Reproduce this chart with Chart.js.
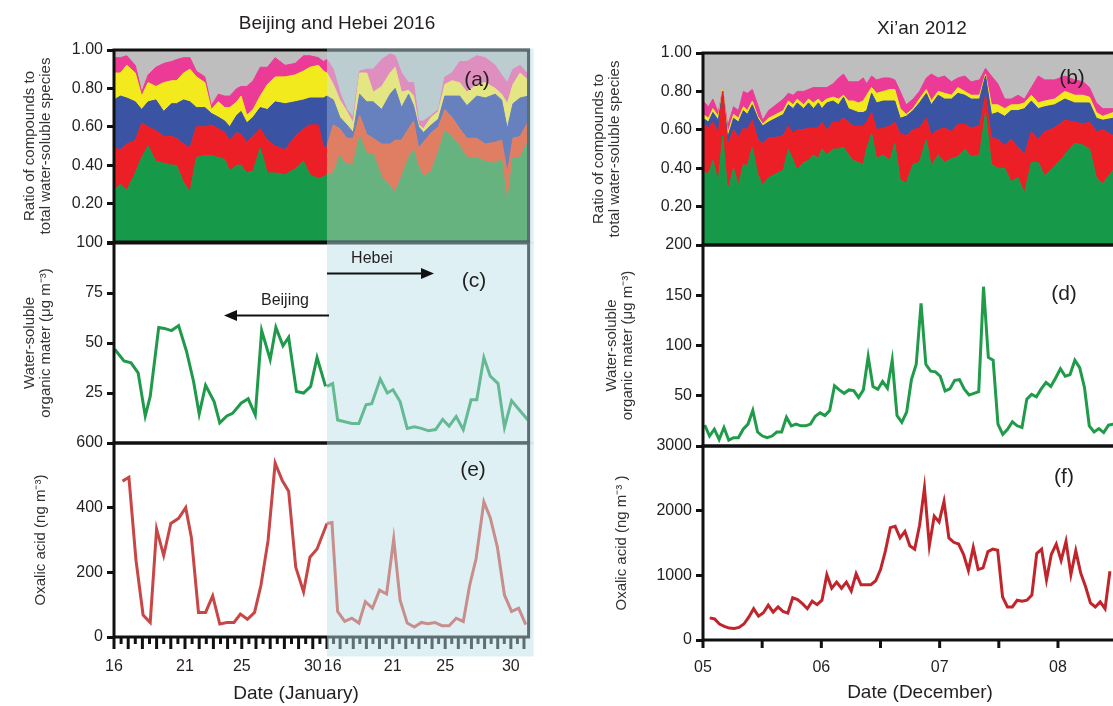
<!DOCTYPE html>
<html>
<head>
<meta charset="utf-8">
<script src="https://cdn.jsdelivr.net/npm/chart.js@4.4.0/dist/chart.umd.min.js"></script>
<style>
  html, body { margin: 0; padding: 0; background: #fff; overflow: hidden; }
  #wrap { position: relative; width: 1113px; height: 706px; overflow: hidden; }
  #wrap canvas { position: absolute; }
</style>
</head>
<body>
<div id="wrap">
  <canvas id="pa" width="560" height="270" style="left:0;top:0"></canvas>
  <canvas id="pc" width="560" height="235" style="left:0;top:225px"></canvas>
  <canvas id="pe" width="560" height="281" style="left:0;top:425px"></canvas>
  <canvas id="pb" width="640" height="270" style="left:580px;top:0"></canvas>
  <canvas id="pd" width="640" height="235" style="left:580px;top:228px"></canvas>
  <canvas id="pf" width="640" height="278" style="left:580px;top:428px"></canvas>
</div>
<script>
// ---------- data ----------
// Beijing / Hebei: x is the sample slot (two per day), Beijing 0-30, Hebei 30-58.4
const janLabels = ['16', '21', '25', '30'];
const xianLabels = ['05', '06', '07', '08', '09'];

// (a) fraction of water-soluble species, Beijing (first 32) then Hebei
const aX = [0, 0.9, 1.8, 3, 3.9, 4.8, 5.9, 7, 8.1, 8.8, 9.8, 10.7, 11.6, 12.8, 13.7, 14.7, 15.6, 16.3, 17.3, 17.9, 18.7, 19.6, 20.6, 21.6, 22.7, 24.1, 25.5, 26.7, 27.6, 28.8, 29.5, 30,
  30.9, 31.8, 32.8, 33.7, 34.6, 35.6, 36.5, 37.7, 38.9, 39.6, 40.5, 41.5, 42.2, 42.9, 43.6, 44.7, 45.7, 46.6, 47.6, 48.7, 49.7, 51.1, 52.3, 53.7, 54.6, 55.4, 56.2, 57.2, 58.4];
const aGreen = [0.27, 0.30, 0.27, 0.36, 0.44, 0.50, 0.42, 0.41, 0.40, 0.40, 0.31, 0.26, 0.44, 0.45, 0.45, 0.44, 0.43, 0.37, 0.40, 0.40, 0.36, 0.37, 0.49, 0.36, 0.36, 0.35, 0.38, 0.42, 0.35, 0.33, 0.34, 0.35,
  0.36, 0.45, 0.40, 0.41, 0.55, 0.46, 0.46, 0.34, 0.29, 0.26, 0.34, 0.44, 0.48, 0.39, 0.34, 0.37, 0.47, 0.58, 0.55, 0.50, 0.44, 0.44, 0.42, 0.41, 0.43, 0.20, 0.44, 0.44, 0.53];
const aRed = [0.22, 0.18, 0.24, 0.17, 0.18, 0.10, 0.16, 0.14, 0.15, 0.14, 0.20, 0.23, 0.16, 0.15, 0.16, 0.15, 0.14, 0.16, 0.17, 0.16, 0.16, 0.18, 0.10, 0.17, 0.14, 0.13, 0.17, 0.17, 0.26, 0.28, 0.15, 0.15,
  0.25, 0.14, 0.14, 0.13, 0.11, 0.10, 0.08, 0.17, 0.22, 0.27, 0.19, 0.15, 0.15, 0.10, 0.18, 0.20, 0.13, 0.11, 0.10, 0.09, 0.10, 0.10, 0.09, 0.11, 0.10, 0.16, 0.10, 0.11, 0.10];
const aBlue = [0.25, 0.28, 0.24, 0.20, 0.07, 0.13, 0.16, 0.13, 0.17, 0.18, 0.23, 0.24, 0.10, 0.10, 0.06, 0.06, 0.06, 0.07, 0.09, 0.12, 0.10, 0.10, 0.11, 0.16, 0.23, 0.24, 0.18, 0.15, 0.14, 0.14, 0.26, 0.26,
  0.13, 0.06, 0.07, 0.03, 0.11, 0.17, 0.19, 0.18, 0.26, 0.27, 0.17, 0.18, 0.08, 0.11, 0.05, 0.04, 0.04, 0.07, 0.11, 0.17, 0.17, 0.22, 0.24, 0.25, 0.21, 0.23, 0.18, 0.20, 0.13];
const aYellow = [0.14, 0.12, 0.17, 0.15, 0.07, 0.10, 0.07, 0.15, 0.12, 0.12, 0.14, 0.17, 0.16, 0.13, 0.02, 0.08, 0.07, 0.10, 0.07, 0.08, 0.04, 0.04, 0.06, 0.13, 0.13, 0.14, 0.14, 0.15, 0.16, 0.17, 0.14, 0.12,
  0.08, 0.09, 0.07, 0.05, 0.11, 0.15, 0.05, 0.12, 0.11, 0.11, 0.08, 0.02, 0.05, 0.01, 0.02, 0.04, 0.04, 0.06, 0.08, 0.07, 0.07, 0.06, 0.08, 0.03, 0.03, 0.13, 0.10, 0.13, 0.08];
const aPink = [0.08, 0.08, 0.05, 0.04, 0.02, 0.04, 0.10, 0.10, 0.10, 0.11, 0.08, 0.06, 0.03, 0.03, 0.02, 0.04, 0.06, 0.06, 0.07, 0.05, 0.15, 0.15, 0.15, 0.09, 0.10, 0.06, 0.06, 0.08, 0.06, 0.04, 0.05, 0.07,
  0.08, 0.04, 0.01, 0.03, 0.01, 0.02, 0.12, 0.14, 0.10, 0.06, 0.10, 0.04, 0.07, 0.02, 0.04, 0.01, 0.01, 0.04, 0.04, 0.11, 0.16, 0.15, 0.13, 0.12, 0.10, 0.11, 0.08, 0.04, 0.03];
const aBeijingCount = 32;

// (c) WSOM, ug m-3
const cBjX = [0.1, 1.4, 2.4, 3.4, 4.4, 5.1, 6.3, 7.1, 8.1, 9.1, 10.2, 11.2, 12, 12.9, 14.1, 14.9, 15.9, 16.7, 17.9, 18.9, 19.9, 20.8, 22, 22.8, 23.8, 24.6, 25.7, 26.7, 27.7, 28.6, 29.8];
const cBjWsom = [46.9, 41, 40.1, 35.1, 13.5, 23.3, 57.8, 57.3, 56.2, 58.7, 46, 30.9, 14.5, 28.8, 20.7, 10.1, 13.5, 14.8, 19.9, 22.1, 14, 56.2, 41.8, 57.8, 48.6, 52.8, 25.8, 25, 28.3, 42.7, 28.3];
const cHbX = [30, 30.8, 31.5, 32.5, 33.5, 34.5, 35.5, 36.3, 37.5, 38.5, 39.3, 40.3, 41.3, 42.3, 43.3, 44.3, 45.3, 46.3, 47.2, 48.2, 49.2, 50.3, 51.1, 52.1, 53, 54.1, 55, 56, 57.1, 58.3];
const cHbWsom = [28.3, 29.7, 11.5, 10.6, 9.8, 9.8, 19.1, 19.6, 32, 25, 26.6, 20.7, 7.3, 8.1, 7.3, 6.1, 6.7, 11.8, 8.4, 13.2, 6.7, 21.6, 21.6, 42.7, 33.4, 29.7, 7.8, 21.2, 16.5, 11.5];

// (e) oxalic acid, ng m-3
const eBjX = [1.2, 2.1, 3.1, 4.1, 5.1, 6, 7, 8, 9.1, 10.1, 10.9, 11.9, 12.9, 13.9, 14.9, 15.9, 16.9, 17.8, 18.8, 19.8, 20.7, 21.7, 22.7, 23.7, 24.6, 25.6, 26.7, 27.6, 28.6, 29.5, 30];
const eBjOxalic = [482, 494, 237, 68, 45, 334, 252, 351, 367, 400, 308, 76, 76, 127, 40, 45, 45, 71, 55, 76, 160, 298, 538, 484, 451, 216, 140, 247, 272, 323, 351];
const eHbX = [30, 30.7, 31.5, 32.5, 33.5, 34.5, 35.4, 36.4, 37.4, 38.4, 39.4, 40.3, 41.3, 42.3, 43.3, 44.2, 45.2, 46.2, 47.2, 48.2, 49.2, 50.1, 51, 52.1, 53, 54, 55, 56, 57, 58];
const eHbOxalic = [351, 354, 79, 48, 58, 43, 109, 89, 145, 133, 303, 114, 43, 31, 45, 41, 45, 35, 35, 58, 48, 160, 242, 418, 369, 278, 130, 79, 89, 38];

// Xi'an: x in hours since 5 Dec 00:00
const bX = [0, 1.1, 2, 3.1, 4, 5, 6.2, 7.2, 8.2, 9, 10, 11.1, 12.1, 13.3, 14.8, 16.3, 17.3, 18.3, 19.1, 20.4, 21.4, 22.4, 23.4, 24.1, 25.1, 26.4, 27.5, 28.5, 29.5, 30.5,
  31.5, 32.5, 33.2, 34.2, 35.2, 36.6, 37.9, 38.9, 40, 41.2, 42.6, 43.9, 45.3, 46.3, 47.7, 49, 50.4, 51.7, 53.1, 54.4, 56.1, 57.3, 58.5, 59.8, 61.2, 62.5, 63.9, 65.2, 66.6, 68,
  69.3, 71.3, 73.4, 75.4, 77.1, 78.4, 79.8, 81.1, 83.2];
const bGreen = [0.38, 0.37, 0.44, 0.33, 0.57, 0.28, 0.40, 0.31, 0.42, 0.41, 0.51, 0.37, 0.31, 0.35, 0.37, 0.39, 0.50, 0.44, 0.39, 0.43, 0.44, 0.47, 0.45, 0.50, 0.47, 0.50, 0.50, 0.51, 0.47, 0.44,
  0.43, 0.42, 0.50, 0.58, 0.45, 0.47, 0.44, 0.53, 0.34, 0.32, 0.42, 0.43, 0.55, 0.41, 0.47, 0.43, 0.45, 0.46, 0.50, 0.46, 0.47, 0.69, 0.42, 0.40, 0.40, 0.33, 0.35, 0.27, 0.43, 0.43,
  0.36, 0.41, 0.47, 0.53, 0.52, 0.50, 0.35, 0.32, 0.39];
const bRed = [0.25, 0.24, 0.20, 0.25, 0.23, 0.24, 0.20, 0.25, 0.19, 0.19, 0.14, 0.18, 0.22, 0.21, 0.19, 0.18, 0.12, 0.14, 0.21, 0.17, 0.17, 0.14, 0.16, 0.14, 0.13, 0.14, 0.14, 0.15, 0.17, 0.18,
  0.19, 0.20, 0.14, 0.11, 0.15, 0.14, 0.18, 0.11, 0.24, 0.25, 0.18, 0.18, 0.11, 0.16, 0.13, 0.18, 0.14, 0.17, 0.13, 0.15, 0.15, 0.09, 0.14, 0.15, 0.12, 0.22, 0.16, 0.20, 0.16, 0.12,
  0.23, 0.20, 0.18, 0.11, 0.11, 0.14, 0.24, 0.28, 0.18];
const bBlue = [0.03, 0.03, 0.05, 0.07, 0, 0.04, 0.06, 0.08, 0.09, 0.08, 0.08, 0.11, 0.09, 0.08, 0.10, 0.11, 0.11, 0.13, 0.14, 0.11, 0.13, 0.10, 0.13, 0.07, 0.14, 0.11, 0.09, 0.11, 0.07, 0.08,
  0.07, 0.07, 0.06, 0.10, 0.14, 0.14, 0.13, 0.11, 0.08, 0.10, 0.10, 0.13, 0.13, 0.16, 0.18, 0.15, 0.17, 0.16, 0.15, 0.15, 0.14, 0.10, 0.12, 0.14, 0.15, 0.15, 0.19, 0.24, 0.16, 0.16,
  0.13, 0.12, 0.11, 0.10, 0.11, 0.10, 0.07, 0.05, 0.09];
const bYellow = [0.02, 0.02, 0.02, 0.02, 0.01, 0.02, 0.02, 0.02, 0.02, 0.02, 0.02, 0.01, 0.01, 0.02, 0.02, 0.02, 0.02, 0.02, 0.02, 0.02, 0.02, 0.03, 0.02, 0.03, 0.02, 0.02, 0.03, 0.01, 0.04, 0.05,
  0.05, 0.06, 0.08, 0.03, 0.05, 0.05, 0.06, 0.06, 0.05, 0.01, 0.01, 0.02, 0.02, 0.02, 0.02, 0.03, 0.02, 0.03, 0.02, 0.02, 0.02, 0.01, 0.05, 0.04, 0.04, 0.03, 0.03, 0.03, 0.03, 0.03,
  0.03, 0.03, 0.04, 0.04, 0.04, 0.03, 0.03, 0.02, 0.03];
const bPink = [0.07, 0.06, 0.05, 0.02, 0, 0.04, 0.04, 0.04, 0.08, 0.09, 0.06, 0.06, 0.02, 0.04, 0.05, 0.06, 0.04, 0.05, 0.04, 0.07, 0.05, 0.08, 0.06, 0.08, 0.06, 0.07, 0.11, 0.11, 0.10, 0.10,
  0.11, 0.12, 0.06, 0.06, 0.07, 0.07, 0.06, 0.05, 0.09, 0.05, 0.05, 0.04, 0.06, 0.14, 0.07, 0.09, 0.07, 0.05, 0.08, 0.07, 0.08, 0.03, 0.15, 0.11, 0.05, 0.03, 0.05, 0.02, 0.04, 0.14,
  0.11, 0.10, 0.08, 0.08, 0.07, 0.05, 0.05, 0.04, 0.02];

// (d) WSOM, hourly samples
const dStartHour = 0.35, dStepHour = 0.975;
const dWsom = [20.7, 9.9, 16.7, 6.5, 18.4, 5.8, 8.2, 8.2, 16.7, 21.8, 35.4, 13.9, 9.9, 8.2, 9.9, 13.9, 13.9, 28.6, 20.1, 21.8,
  20.1, 20.1, 21.8, 29.6, 33, 30.3, 35.4, 59.9, 55.8, 52.4, 55.8, 55.1, 48.3, 55.8, 88.8, 59.2, 56.5, 64.3, 57.5, 85.4,
  30.3, 23.5, 33.7, 66, 81.3, 141.8, 81.3, 74.5, 73.8, 69.4, 54.8, 56.8, 65.3, 66, 56.5, 50.7, 52.4, 54.1, 158.5, 88.1,
  85.4, 21.8, 11.6, 16.7, 24.1, 20.1, 18.4, 46.6, 51.4, 49, 56.8, 63.3, 59.2, 67.7, 76.9, 69.4, 71.1, 85.4, 77.9, 58.2,
  20.1, 13.9, 17.3, 13.3, 20.7, 21.8];

// (f) oxalic acid, hourly samples
const fStartHour = 1.36, fStepHour = 0.99;
const fOxalic = [342, 326, 247, 211, 184, 179, 195, 247, 353, 484, 368, 421, 537, 432, 511, 442, 416, 653, 626, 563,
  484, 600, 547, 616, 1011, 800, 895, 800, 895, 758, 1026, 853, 853, 853, 916, 1089, 1379, 1737, 1758, 1579,
  1679, 1458, 1405, 1774, 2353, 1458, 1916, 1826, 2142, 1579, 1511, 1484, 1326, 1074, 1432, 1089, 1116, 1368, 1405, 1389,
  668, 511, 511, 616, 600, 616, 695, 1337, 1405, 932, 1326, 1484, 1232, 1526, 1011, 1379, 1037, 826, 574, 511,
  589, 484, 1063];

// ---------- style ----------
const INK = '#231f20';
const FONT = '"Liberation Sans", Arial, Helvetica, sans-serif';
const SHADE = 'rgba(185,222,233,0.46)';
const COLORS = { green: '#17994a', red: '#ec1f26', blue: '#3b53a3', yellow: '#f2ea1c', pink: '#ec3b97', gray: '#bebebe' };
const HEBEI = { green: '#66b380', red: '#e07e63', blue: '#6781be', yellow: '#e4e583', pink: '#de8fbf' };
Chart.defaults.font.family = FONT;
Chart.defaults.color = INK;

// Beijing half-day slot = 1, Hebei day spacing on the shared axis
const HB_DAY = 1.85;
const janTicks = [
  { v: 0, text: janLabels[0] }, { v: 10, text: janLabels[1] }, { v: 18, text: janLabels[2] }, { v: 28, text: janLabels[3] },
  { v: 30.8, text: janLabels[0] }, { v: 30 + 5 * HB_DAY, text: janLabels[1] }, { v: 30 + 9 * HB_DAY, text: janLabels[2] }, { v: 30 + 14 * HB_DAY, text: janLabels[3] }
];
const janMarks = [];
for (let h = 0; h <= 30; h++) janMarks.push({ v: h, len: h % 2 === 0 ? 12 : 7 });
for (let k = 1; 30 + k * HB_DAY / 2 <= 58.4; k++) janMarks.push({ v: 30 + k * HB_DAY / 2, len: k % 2 === 0 ? 12 : 7 });
const xianMarks = [];
for (let h = 0; h <= 96; h += 12) xianMarks.push({ v: h, len: 8 });

const framePlugin = {
  id: 'frame',
  beforeDatasetsDraw(chart, args, o) {
    if (!o.bg) return;
    const { ctx, chartArea: a } = chart;
    ctx.save();
    ctx.fillStyle = o.bg;
    ctx.fillRect(a.left, a.top, a.right - a.left, a.bottom - a.top);
    if (o.shadeUnder) {
      const x0 = chart.scales.x.getPixelForValue(o.shadeFrom);
      ctx.fillStyle = SHADE;
      ctx.fillRect(x0, a.top, a.right - x0, a.bottom - a.top);
    }
    ctx.restore();
  },
  afterDraw(chart, args, o) {
    const { ctx, chartArea: a } = chart;
    const xs = chart.scales.x;
    ctx.save();
    ctx.strokeStyle = '#111';
    ctx.lineWidth = 3;
    (o.marks || []).forEach(m => {
      const px = xs.getPixelForValue(m.v);
      ctx.beginPath();
      ctx.moveTo(px, a.bottom);
      ctx.lineTo(px, a.bottom + m.len);
      ctx.stroke();
    });
    ctx.strokeRect(a.left, a.top, a.right - a.left, a.bottom - a.top);
    if (o.shadeFrom != null) {
      const x0 = xs.getPixelForValue(o.shadeFrom);
      const w = a.right + 5 - x0;
      ctx.fillStyle = SHADE;
      if (o.shadeUnder) {
        ctx.fillRect(x0, a.top - 1.5, w, 3);
        ctx.fillRect(x0, a.bottom - 1.5, w, 3);
        ctx.fillRect(a.right - 1.5, a.top + 1.5, 6.5, a.bottom - a.top - 3);
      } else {
        ctx.fillRect(x0, a.top - 1.5, w, a.bottom - a.top + 3 + (o.shadeBelow || 0));
      }
    }
    ctx.fillStyle = INK;
    ctx.textAlign = 'center';
    ctx.textBaseline = 'middle';
    (o.texts || []).forEach(t => {
      ctx.font = t.size + 'px ' + FONT;
      ctx.fillText(t.text, t.x, t.y);
    });
    (o.arrows || []).forEach(ar => {
      const dir = Math.sign(ar.x1 - ar.x0);
      ctx.strokeStyle = '#111';
      ctx.fillStyle = '#111';
      ctx.lineWidth = 2;
      ctx.beginPath();
      ctx.moveTo(ar.x0, ar.y);
      ctx.lineTo(ar.x1 - dir * 8, ar.y);
      ctx.stroke();
      ctx.beginPath();
      ctx.moveTo(ar.x1, ar.y);
      ctx.lineTo(ar.x1 - dir * 13, ar.y - 5.5);
      ctx.lineTo(ar.x1 - dir * 13, ar.y + 5.5);
      ctx.closePath();
      ctx.fill();
    });
    ctx.restore();
  }
};

function pts(xs, ys) {
  return xs.map((x, i) => ({ x: x, y: ys[i] }));
}

function stackSets(xs, layers, stack) {
  return layers.map((l, k) => ({
    data: pts(xs, l[0]),
    stack: stack,
    backgroundColor: l[1],
    borderColor: l[1],
    borderWidth: 1,
    pointRadius: 0,
    tension: 0,
    fill: k === 0 ? 'origin' : '-1'
  }));
}

function lineSet(xs, ys, color) {
  return { data: pts(xs, ys), borderColor: color, borderWidth: 3, pointRadius: 0, tension: 0, fill: false };
}

function yAxis(opt) {
  return {
    min: opt.min, max: opt.max, stacked: !!opt.stacked,
    afterFit: s => { s.width = opt.width; },
    ticks: {
      stepSize: opt.step, padding: 4, font: { size: 16 }, color: INK,
      callback: v => (opt.hideMin && v === opt.min) ? '' : opt.fmt(v)
    },
    grid: { drawOnChartArea: false, tickLength: 7, tickWidth: 3, tickColor: '#111' },
    border: { display: false },
    title: { display: true, text: opt.title, color: '#333', font: { size: 15, lineHeight: 1.1 }, padding: { top: opt.titlePad, bottom: 0 } }
  };
}

function panel(id, cfg) {
  return new Chart(document.getElementById(id), {
    type: 'line',
    data: { datasets: cfg.datasets },
    options: {
      responsive: false,
      animation: false,
      events: [],
      layout: { padding: cfg.padding },
      plugins: { legend: { display: false }, tooltip: { enabled: false }, frame: cfg.frame },
      scales: { x: cfg.x, y: cfg.y }
    },
    plugins: [framePlugin]
  });
}

const ratioTitle = ['Ratio of compounds to', 'total water-soluble species'];
const wsomTitle = ['Water-soluble', 'organic mater (\u03bcg m\u207b\u00b3)'];
const fix2 = v => v.toFixed(2);
const int = v => String(Math.round(v));

const janHidden = { type: 'linear', min: 0, max: 58.4, display: false };
const janAxis = {
  type: 'linear', min: 0, max: 58.4,
  afterBuildTicks: s => { s.ticks = janTicks.map(t => ({ value: t.v })); },
  afterFit: s => { s.height = 69; },
  grid: { display: false, drawTicks: false },
  border: { display: false },
  ticks: { autoSkip: false, maxRotation: 0, padding: 20, font: { size: 16 }, color: INK, callback: (v, i) => janTicks[i].text }
};
const xianHidden = { type: 'linear', min: 0, max: 96, display: false };
const xianAxis = {
  type: 'linear', min: 0, max: 96,
  afterFit: s => { s.height = 66; },
  grid: { display: false, drawTicks: false },
  border: { display: false },
  ticks: { stepSize: 24, autoSkip: false, maxRotation: 0, padding: 18, font: { size: 16 }, color: INK, callback: v => xianLabels[Math.round(v / 24)] }
};

// ---------- Beijing and Hebei ----------
const bjEnd = aBeijingCount, hbStart = aBeijingCount - 1;
const cut = (arr, from, to) => arr.slice(from, to);
panel('pa', {
  datasets: stackSets(cut(aX, 0, bjEnd), [
    [cut(aGreen, 0, bjEnd), COLORS.green], [cut(aRed, 0, bjEnd), COLORS.red], [cut(aBlue, 0, bjEnd), COLORS.blue],
    [cut(aYellow, 0, bjEnd), COLORS.yellow], [cut(aPink, 0, bjEnd), COLORS.pink]
  ], 'beijing').concat(stackSets(cut(aX, hbStart), [
    [cut(aGreen, hbStart), HEBEI.green], [cut(aRed, hbStart), HEBEI.red], [cut(aBlue, hbStart), HEBEI.blue],
    [cut(aYellow, hbStart), HEBEI.yellow], [cut(aPink, hbStart), HEBEI.pink]
  ], 'hebei')),
  padding: { top: 50, bottom: 28, left: 0, right: 31.4 },
  x: janHidden,
  y: yAxis({ min: 0, max: 1, step: 0.2, fmt: fix2, hideMin: true, stacked: true, width: 114, title: ratioTitle, titlePad: 21.5 }),
  frame: { bg: COLORS.gray, shadeFrom: 30, shadeUnder: true, texts: [
    { text: 'Beijing and Hebei 2016', x: 337, y: 24, size: 19 },
    { text: '(a)', x: 477, y: 80, size: 21 }
  ] }
});

panel('pc', {
  datasets: [lineSet(cBjX, cBjWsom, '#1f9a4a'), lineSet(cHbX, cHbWsom, '#1f9a4a')],
  padding: { top: 18, bottom: 17, left: 0, right: 31.4 },
  x: janHidden,
  y: yAxis({ min: 0, max: 100, step: 25, fmt: int, hideMin: true, width: 114, title: wsomTitle, titlePad: 21.5 }),
  frame: { shadeFrom: 30, texts: [
    { text: '(c)', x: 474, y: 56, size: 21 },
    { text: 'Hebei', x: 372, y: 34, size: 16 },
    { text: 'Beijing', x: 285, y: 76, size: 16 }
  ], arrows: [{ x0: 327, x1: 434, y: 48.5 }, { x0: 329, x1: 224, y: 90.5 }] }
});

panel('pe', {
  datasets: [lineSet(eBjX, eBjOxalic, '#c94646'), lineSet(eHbX, eHbOxalic, '#d24a3c')],
  padding: { top: 18, bottom: 0, left: 0, right: 31.4 },
  x: janAxis,
  y: yAxis({ min: 0, max: 600, step: 200, fmt: int, hideMin: false, width: 114, title: 'Oxalic acid (ng m\u207b\u00b3)', titlePad: 32.5 }),
  frame: { shadeFrom: 30, shadeBelow: 18, marks: janMarks, texts: [
    { text: '(e)', x: 473, y: 45, size: 21 },
    { text: 'Date (January)', x: 296, y: 269, size: 19 }
  ] }
});

// ---------- Xi'an ----------
panel('pb', {
  datasets: stackSets(bX, [[bGreen, COLORS.green], [bRed, COLORS.red], [bBlue, COLORS.blue], [bYellow, COLORS.yellow], [bPink, COLORS.pink]], 'xian'),
  padding: { top: 53, bottom: 25, left: 0, right: 43.7 },
  x: xianHidden,
  y: yAxis({ min: 0, max: 1, step: 0.2, fmt: fix2, hideMin: true, stacked: true, width: 123, title: ratioTitle, titlePad: 10.5 }),
  frame: { bg: COLORS.gray, texts: [
    { text: 'Xi\u2019an 2012', x: 342, y: 29, size: 19 },
    { text: '(b)', x: 492, y: 78, size: 21 }
  ] }
});

panel('pd', {
  datasets: [lineSet(dWsom.map((v, i) => dStartHour + i * dStepHour), dWsom, '#1f9b4a')],
  padding: { top: 17, bottom: 17, left: 0, right: 43.7 },
  x: xianHidden,
  y: yAxis({ min: 0, max: 200, step: 50, fmt: int, hideMin: true, width: 123, title: wsomTitle, titlePad: 23.5 }),
  frame: { texts: [{ text: '(d)', x: 484, y: 66, size: 21 }] }
});

panel('pf', {
  datasets: [lineSet(fOxalic.map((v, i) => fStartHour + i * fStepHour), fOxalic, '#c1252c')],
  padding: { top: 18, bottom: 0, left: 0, right: 43.7 },
  x: xianAxis,
  y: yAxis({ min: 0, max: 3000, step: 1000, fmt: int, hideMin: false, width: 123, title: 'Oxalic acid (ng m\u207b\u00b3 )', titlePad: 33.5 }),
  frame: { marks: xianMarks, texts: [
    { text: '(f)', x: 484, y: 49, size: 21 },
    { text: 'Date (December)', x: 340, y: 265, size: 19 }
  ] }
});
</script>
</body>
</html>
